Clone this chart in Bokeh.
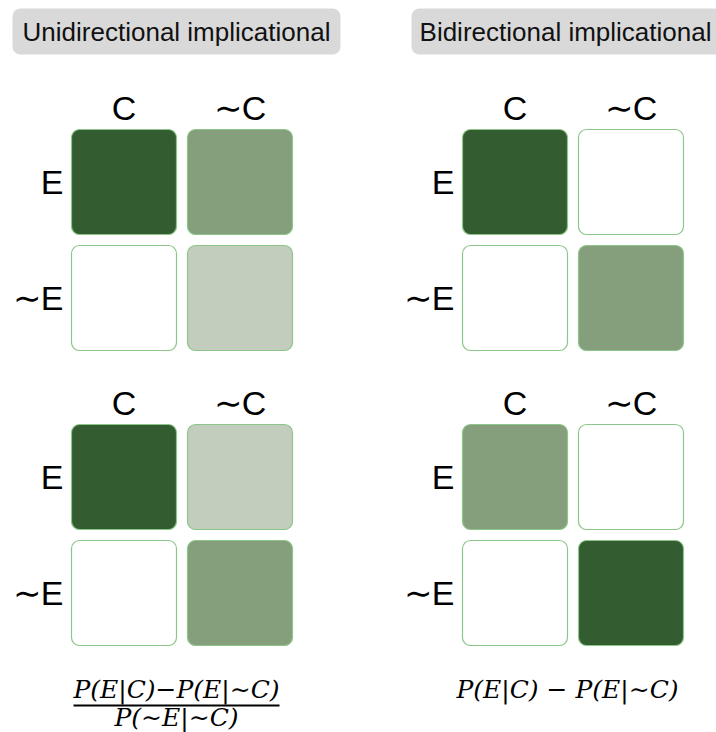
from bokeh.plotting import figure
from bokeh.models import Range1d, ColumnDataSource
from bokeh.core.properties import value
from bokeh.embed import file_html
from bokeh.resources import INLINE

# ---- data ----
panel_titles = ["Unidirectional implicational", "Bidirectional implicational"]
col_labels = ["C", "\u223cC"]
row_labels = ["E", "\u223cE"]
# shade level per cell: 3 dark, 2 medium, 1 light, 0 empty ; [row][col]
uni_top = [[3, 2], [0, 1]]
uni_bottom = [[3, 1], [0, 2]]
bi_top = [[3, 0], [0, 2]]
bi_bottom = [[2, 0], [0, 3]]
formula_uni_num = "P(E|C)\u2212P(E|\u223cC)"
formula_uni_den = "P(\u223cE|\u223cC)"
formula_bi = "P(E|C) \u2212 P(E|\u223cC)"

shade_colors = {3: "#335c30", 2: "#859e7c", 1: "#c2cdbe", 0: "#ffffff"}
border_color = "#8cc689"

# ---- layout ----
CELL = 105
GAP = 11
grid_x0 = [71, 462]
grid_y0 = [129, 424]
grids = [(0, 0, uni_top), (0, 1, uni_bottom), (1, 0, bi_top), (1, 1, bi_bottom)]

p = figure(width=716, height=732, output_backend="svg", toolbar_location=None,
           x_range=Range1d(0, 716), y_range=Range1d(732, 0),
           x_axis_type=None, y_axis_type=None, min_border=0)
p.outline_line_color = None
p.xgrid.visible = False
p.ygrid.visible = False
p.background_fill_color = "white"

FONT = value("Liberation Sans")

# header boxes
hb = dict(left=[12, 411], right=[340, 722], top=[8, 8], bottom=[54, 54])
p.quad(source=ColumnDataSource(hb), left="left", right="right", top="top", bottom="bottom",
       fill_color="#d9d9d9", line_color=None, border_radius=8)
p.text(x=[176, 565], y=[31, 31], text=panel_titles, text_align="center",
       text_baseline="middle", text_font=FONT, text_font_size="26px", text_color="#111111")

L, R, T, B, F = [], [], [], [], []
lx, ly, lt, la = [], [], [], []
for gx, gy, mat in grids:
    x0 = grid_x0[gx]
    y0 = grid_y0[gy]
    for r in range(2):
        for c in range(2):
            left = x0 + c * (CELL + GAP)
            top = y0 + r * (CELL + GAP)
            L.append(left); R.append(left + CELL)
            T.append(top); B.append(top + CELL)
            F.append(shade_colors[mat[r][c]])
    for c in range(2):
        lx.append(x0 + c * (CELL + GAP) + CELL / 2)
        ly.append(y0 - 22)
        lt.append(col_labels[c])
        la.append("center")
    for r in range(2):
        lx.append(x0 - 8)
        ly.append(y0 + r * (CELL + GAP) + CELL / 2)
        lt.append(row_labels[r])
        la.append("right")

p.quad(source=ColumnDataSource(dict(left=L, right=R, top=T, bottom=B, fill=F)),
       left="left", right="right", top="top", bottom="bottom",
       fill_color="fill", line_color=border_color, line_width=1.2, border_radius=8)
p.text(source=ColumnDataSource(dict(x=lx, y=ly, text=lt, align=la)), x="x", y="y", text="text",
       text_align="align", text_baseline="middle", text_font=FONT,
       text_font_size="34px", text_color="#000000")

# formulas
SERIF = value("DejaVu Serif")
p.text(x=[176], y=[689], text=[formula_uni_num], text_align="center", text_baseline="middle",
       text_font=SERIF, text_font_style="italic", text_font_size="25px", text_color="#000000")
p.segment(x0=[73], y0=[705], x1=[279], y1=[705], line_color="#000000", line_width=2)
p.text(x=[176], y=[717], text=[formula_uni_den], text_align="center", text_baseline="middle",
       text_font=SERIF, text_font_style="italic", text_font_size="25px", text_color="#000000")
p.text(x=[567], y=[689], text=[formula_bi], text_align="center", text_baseline="middle",
       text_font=SERIF, text_font_style="italic", text_font_size="25px", text_color="#000000")

open("out.html", "w").write(file_html(p, INLINE))
